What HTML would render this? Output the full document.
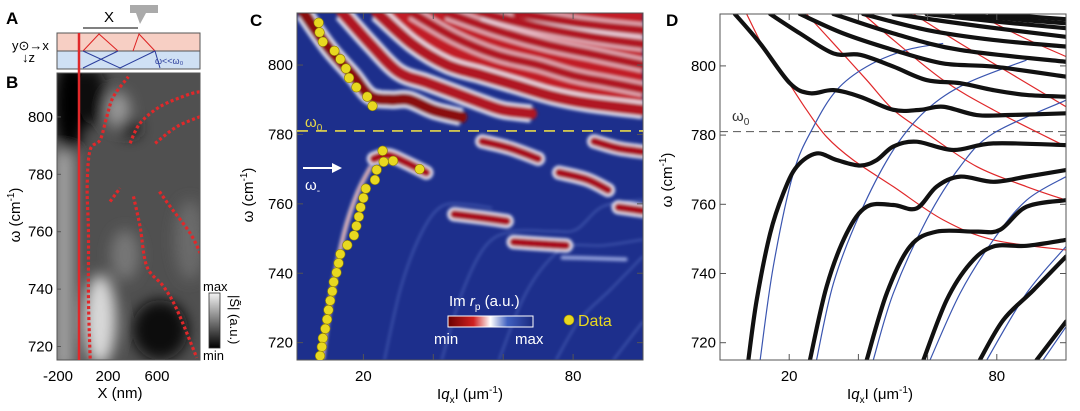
<!DOCTYPE html>
<html><head><meta charset="utf-8"><style>
html,body{margin:0;padding:0;background:#fff;}
svg{display:block;font-family:"Liberation Sans",sans-serif;}
</style></head><body>
<svg id="fig" width="1080" height="411" viewBox="0 0 1080 411" xmlns="http://www.w3.org/2000/svg">
<defs>
<filter id="blurB" x="-50%" y="-50%" width="200%" height="200%"><feGaussianBlur stdDeviation="7"/></filter>
<filter id="blurC" x="-20%" y="-20%" width="140%" height="140%"><feGaussianBlur stdDeviation="1.6"/></filter>
<linearGradient id="cbarC" x1="0" x2="1" y1="0" y2="0"><stop offset="0" stop-color="#6a0000"/><stop offset="0.3" stop-color="#d02020"/><stop offset="0.5" stop-color="#ffffff"/><stop offset="0.7" stop-color="#4060c0"/><stop offset="1" stop-color="#1a2a80"/></linearGradient>
<linearGradient id="cbarB" x1="0" x2="0" y1="0" y2="1"><stop offset="0" stop-color="#f4f4f4"/><stop offset="1" stop-color="#000"/></linearGradient>
<clipPath id="clipB"><rect x="57" y="73" width="143" height="287"/></clipPath>
<clipPath id="clipC"><rect x="297" y="13" width="346" height="347"/></clipPath>
<clipPath id="clipD"><rect x="720" y="14" width="346" height="346"/></clipPath>
</defs>

<g>
<text x="6" y="24" font-size="17" font-weight="bold">A</text>
<rect x="57" y="33" width="143" height="18" fill="#f7cfc4" stroke="#555" stroke-width="1"/>
<rect x="57" y="51" width="143" height="18" fill="#cfe0f4" stroke="#555" stroke-width="1"/>
<line x1="83" y1="28" x2="138" y2="28" stroke="#000" stroke-width="1"/>
<text x="104" y="22" font-size="15">X</text>
<path d="M130 5 L158 5 L158 13 L146 13 L140 24 L136 13 L130 13Z" fill="#aaa"/>
<path d="M83 51 L99 34 L118 51 M133 51 L139 34 L155 51" stroke="#d22" fill="none" stroke-width="1"/>
<path d="M83 51 L120 68 L155 51 M83 68 L118 51 M120 68 L155 51 L160 68" stroke="#2b3d9c" fill="none" stroke-width="1"/>
<text x="155" y="64" font-size="9" fill="#2b3d9c">ω&lt;&lt;ω₀</text>
<text x="12" y="50" font-size="13">y⊙→x</text>
<text x="22" y="62" font-size="13">↓z</text>
</g>

<g>
<text x="6" y="88" font-size="17" font-weight="bold">B</text>
<g clip-path="url(#clipB)">
<rect x="57" y="73" width="143" height="287" fill="#505050"/>
<g filter="url(#blurB)">
<rect x="54" y="150" width="20" height="220" fill="#a0a0a0"/>
<ellipse cx="70" cy="105" rx="16" ry="48" fill="#000"/>
<ellipse cx="92" cy="95" rx="14" ry="30" fill="#111"/>
<ellipse cx="118" cy="110" rx="12" ry="18" fill="#999"/>
<ellipse cx="130" cy="128" rx="10" ry="10" fill="#1a1a1a"/>
<ellipse cx="100" cy="320" rx="16" ry="45" fill="#d8d8d8"/>
<ellipse cx="160" cy="330" rx="28" ry="30" fill="#0a0a0a"/>
<ellipse cx="125" cy="255" rx="14" ry="25" fill="#777"/>
<ellipse cx="190" cy="240" rx="15" ry="40" fill="#6a6a6a"/>
</g>
</g>
<g id="bLines" clip-path="url(#clipB)"></g>
<rect x="57" y="73" width="143" height="287" fill="none" stroke="#555" stroke-width="1"/>
<line x1="79" y1="33" x2="79" y2="360" stroke="#e0282a" stroke-width="2.5"/>
<g id="bAxes"></g>
<text x="120" y="398" font-size="15" text-anchor="middle">X (nm)</text>
<text transform="translate(20,215) rotate(-90)" font-size="15" text-anchor="middle">ω (cm<tspan font-size="10" dy="-6">-1</tspan><tspan dy="6">)</tspan></text>
<rect x="209" y="293" width="11" height="55" fill="url(#cbarB)" stroke="#333" stroke-width="0.8"/>
<text x="203" y="291" font-size="13">max</text>
<text x="203" y="360" font-size="13">min</text>
<text transform="translate(230,295) rotate(90)" font-size="13">|S̃| (a.u.)</text>
</g>

<g>
<text x="250" y="26" font-size="17" font-weight="bold">C</text>
<g clip-path="url(#clipC)">
<rect x="297" y="13" width="346" height="347" fill="#1d2f8c"/>
<g id="cMarks" filter="url(#blurC)"></g>
</g>
<rect x="297" y="13" width="346" height="347" fill="none" stroke="#555" stroke-width="1"/>
<g id="cAxes"></g>
<g id="cDots" clip-path="url(#clipC)"></g>
<text x="305" y="127" font-size="15" fill="#e6d84a">ω<tspan font-size="10" dy="4">0</tspan></text>
<line x1="303" y1="168" x2="335" y2="168" stroke="#fff" stroke-width="2"/>
<path d="M342 168 L332 163 L332 173Z" fill="#fff"/>
<text x="305" y="190" font-size="15" fill="#fff">ω<tspan font-size="10" dy="4">-</tspan></text>
<text x="449" y="306" font-size="15" fill="#fff">Im <tspan font-style="italic">r</tspan><tspan font-size="10" dy="4">p</tspan><tspan dy="-4"> (a.u.)</tspan></text>
<rect x="448" y="316" width="85" height="11" fill="url(#cbarC)" stroke="#fff" stroke-width="1"/>
<text x="434" y="344" font-size="15" fill="#fff">min</text>
<text x="515" y="344" font-size="15" fill="#fff">max</text>
<circle cx="569" cy="320" r="5" fill="#e8d820" stroke="#9a8a00" stroke-width="0.6"/>
<text x="578" y="326" font-size="16" fill="#e8d820">Data</text>
<text x="253" y="195" font-size="15" text-anchor="middle" transform="rotate(-90 253 195)">ω (cm<tspan font-size="10" dy="-6">-1</tspan><tspan dy="6">)</tspan></text>
<text x="470" y="399" font-size="15" text-anchor="middle">I<tspan font-style="italic">q</tspan><tspan font-size="10" dy="4">x</tspan><tspan dy="-4">I (μm</tspan><tspan font-size="10" dy="-6">-1</tspan><tspan dy="6">)</tspan></text>
</g>

<g>
<text x="666" y="26" font-size="17" font-weight="bold">D</text>
<g id="dMarks" clip-path="url(#clipD)"></g>
<rect x="720" y="14" width="346" height="346" fill="none" stroke="#555" stroke-width="1"/>
<g id="dAxes"></g>
<text x="732" y="121" font-size="15" fill="#333">ω<tspan font-size="10" dy="4">0</tspan></text>
<text x="672" y="180" font-size="15" text-anchor="middle" transform="rotate(-90 672 180)">ω (cm<tspan font-size="10" dy="-6">-1</tspan><tspan dy="6">)</tspan></text>
<text x="880" y="399" font-size="15" text-anchor="middle">I<tspan font-style="italic">q</tspan><tspan font-size="10" dy="4">x</tspan><tspan dy="-4">I (μm</tspan><tspan font-size="10" dy="-6">-1</tspan><tspan dy="6">)</tspan></text>
</g>
</svg>

<script>
// ---------- data ----------
const omegaTicks = [720, 740, 760, 780, 800];
const qTicksLabeled = [20, 80];
const qTicksMinor = [40, 60];
const bXTicks = [-200, 200, 600];
const omega0 = 781;

const blackLower = [
 [[8.2,715],[10.6,732.3],[14.5,751.6],[18.3,763.2],[22.2,770.9],[27.9,774.7],[33.7,772.8],[40.5,771.2],[45.3,772.8],[50.1,776.7],[56.8,778.1],[67.4,775.7],[79,777.6],[100,777.1]],
 [[26,715],[30.8,736.2],[36.6,751.6],[42.4,759.3],[50.1,759.8],[56.8,758.8],[62.6,765.1],[69.4,768],[79,766.5],[88.6,768],[100,769.9]],
 [[42.4,715],[48.2,734.3],[54.9,747.8],[62.6,752.1],[74.2,752.1],[80.9,752.6],[88.6,759.3],[100,761.2]],
 [[58.8,715],[65.5,732.3],[72.3,742.9],[79,747.8],[88.6,748],[100,749.7]],
 [[75.1,715],[81.9,726.6],[90.6,735.2],[100,744.9]],
 [[91.5,715],[100,726.1]]
];
const blackUpper = [
 [[4.3,815],[11.6,806.5],[20.2,795],[26,792.1],[32.8,793],[40.5,791.1],[50.1,787.3],[57.8,787.3],[64.5,788.2],[74.2,785.8],[83.8,785.8],[100,786.3]],
 [[14.5,815],[23.1,809.4],[32.8,803.6],[40.5,803.2],[50.1,799.8],[59.7,795.9],[69.4,795],[79,793],[88.6,791.6],[100,791.1]],
 [[23.1,815],[35.6,809.4],[50.1,804.6],[64.5,800.7],[79,799.8],[100,796.9]],
 [[32.8,815],[50.1,809.4],[69.4,804.6],[100,801.2]],
 [[41.4,815],[59.7,810.4],[79,807.5],[100,805.6]],
 [[50.1,815],[75,811.5],[100,808.4]],
 [[59.7,815],[80,812.8],[100,810.9]],
 [[68.4,815],[85,813.5],[100,812.3]],
 [[78,815],[90,814.2],[100,813.5]]
];
const redModes = [
 [[7.7,815],[13.5,803.6],[19.3,795.9],[25,787.3],[30.8,779.5],[38.5,772.8],[50.1,765.1],[64.5,755.5],[79,749.7],[100,746.8]],
 [[25,815],[32.8,806.5],[42.4,795.9],[50.1,787.3],[59.7,780.5],[74.2,770.9],[88.6,765.1],[100,761.2]],
 [[41.4,815],[50.1,807.5],[64.5,795.9],[79,787.3],[100,776.7]],
 [[55.9,815],[69.4,806.5],[83.8,797.9],[100,788.2]],
 [[74.2,815],[87,808.5],[100,802.7]]
];
const blueModes = [
 [[11.6,715],[15.4,742],[21.2,769],[27,782.4],[33.7,793],[42.4,799.8],[53.9,804.6],[64.5,806.5]],
 [[27.9,715],[32.8,737.2],[40.5,757.4],[50.1,775.7],[59.7,787.3],[71.3,795],[88.6,801.7]],
 [[44.3,715],[50.1,734.3],[59.7,755.5],[69.4,770.9],[79,780.5],[100,790.1]],
 [[60.7,715],[69.4,734.3],[79,749.7],[88.6,761.2],[100,768]],
 [[77.1,715],[88.6,734.3],[100,747.8]],
 [[93.4,715],[100,724.6]]
];

const cSegments = [
 [[23,773],[27,774],[32,772],[38,769]],
 [[46,757],[54,756],[61,755]],
 [[63,749],[70,748.5],[78,748]],
 [[54,778],[62,776],[70,773]],
 [[76,769],[84,767],[90,764]],
 [[86,778],[93,776],[100,775]],
 [[93,759],[100,758]]
];
const cFaintSegments = [
 [[77,744.5],[86,744.3],[95,744]]
];
const cUpperBands = [
 [[3,815],[10,805],[17,797],[22,791],[28,790],[33,790],[40,787],[48,785]],
 [[14,815],[22,806],[30,798],[38,795],[46,792],[54,789],[60,787],[68,786]],
 [[24,815],[34,806],[44,800],[54,797],[64,794],[74,791],[84,789],[100,787]],
 [[34,815],[46,808],[58,803],[70,800],[80,797],[90,795],[100,793]],
 [[44,815],[58,810],[72,806],[86,803],[100,800]],
 [[54,815],[70,811],[86,808],[100,806]],
 [[64,815],[82,812],[100,810]]
];
const cDataQ = [7.2,7.45,8.4,11.7,13.4,15,15.9,18,21.1,22.6,
 25.5,25.8,28.5,36.1,23.8,23.3,20.7,20,19.2,18.7,18,17.3,15.4,13.4,12.9,12.3,11.5,11.1,10.5,10,9.6,9.1,8.4,8.1,7.6];
const cDataW = [812.2,809.4,806.7,804.1,801.7,799,796.3,793.6,790.9,788.2,
 775.3,772.1,772.4,770,769.8,766.9,764.4,761.7,759,756.3,753.6,750.9,748.1,745.5,742.9,740.2,737.5,734.8,732.1,729.4,726.7,724,721.3,718.8,716.2];

const bTraces = [
 [[85,715.8],[72,736.3],[72,759.5],[62,775.8],[85,788.5],[162,792],[213,800.1],[264,807.1],[379,814]],
 [[392,790.8],[469,797.8],[623,803.6],[828,807.6],[931,808.8]],
 [[585,790.8],[752,796.6],[931,800.1]],
 [[238,770.5],[315,775.2]],
 [[418,772.3],[469,761.8],[521,747.9],[648,741],[752,732.9],[905,716.1]],
 [[618,774],[700,768.8],[854,759.5],[931,752.6]]
];

function lin(d0,d1,r0,r1){return v=>r0+(v-d0)/(d1-d0)*(r1-r0);}
const cxS = lin(1,100,297,643), cyS = lin(715,815,360,13);
const dxS = lin(0,100,720,1066), dyS = lin(715,815,360,14);
const bxS = lin(-170,930,57,200), byS = lin(715.3,815.3,360,73);

function smooth(pts,sx,sy){
 const p=pts.map(a=>[sx(a[0]),sy(a[1])]);
 if(p.length<3) return 'M'+p.map(a=>a.join(',')).join(' L');
 let d='M'+p[0][0]+','+p[0][1];
 for(let i=0;i<p.length-1;i++){
  const p0=p[i-1]||p[i],p1=p[i],p2=p[i+1],p3=p[i+2]||p2;
  const c1=[p1[0]+(p2[0]-p0[0])/6,p1[1]+(p2[1]-p0[1])/6];
  const c2=[p2[0]-(p3[0]-p1[0])/6,p2[1]-(p3[1]-p1[1])/6];
  d+=' C'+c1[0]+','+c1[1]+' '+c2[0]+','+c2[1]+' '+p2[0]+','+p2[1];
 }
 return d;
}
const NS='http://www.w3.org/2000/svg';
function mk(parent,tag,attrs){const e=document.createElementNS(NS,tag);for(const k in attrs)e.setAttribute(k,attrs[k]);parent.appendChild(e);return e;}

const bLayer=document.getElementById('bLines');
bTraces.forEach(t=>{
 const e=mk(bLayer,'path',{d:smooth(t,bxS,byS),fill:'none',stroke:'#e0282a','stroke-width':3.2,'stroke-dasharray':'3 2.5'});
 
 
});
const bAxesG=document.getElementById('bAxes');
omegaTicks.forEach(w=>{
 mk(bAxesG,'line',{x1:57,x2:61,y1:byS(w),y2:byS(w),stroke:'#555'});
 const t=mk(bAxesG,'text',{x:53,y:byS(w)+5,'font-size':15,'text-anchor':'end'});t.textContent=w;
 
 
});
bXTicks.forEach(v=>{
 const px=v===-200?58:(v===200?108:157);
 const t=mk(bAxesG,'text',{x:px,y:381,'font-size':15,'text-anchor':'middle'});t.textContent=v;
 
 
});

// Panel C heatmap
const cLayer=document.getElementById('cMarks');
const fillBand=cUpperBands[2];
const polyPts=fillBand.map(a=>cxS(a[0])+','+cyS(a[1])).join(' ')+' '+cxS(100)+','+cyS(830)+' '+cxS(24)+','+cyS(830);
mk(cLayer,'polygon',{points:polyPts,fill:'#c21c26'});
cUpperBands.forEach((b,i)=>{
 const w=i<3?12:9;
 mk(cLayer,'path',{d:smooth(b,cxS,cyS),fill:'none',stroke:'#f2f4ff','stroke-width':w+6,'stroke-opacity':i<3?0.95:0.7});
});
cUpperBands.forEach((b,i)=>{
 const w=i<3?12:9;
 const e=mk(cLayer,'path',{d:smooth(b,cxS,cyS),fill:'none',stroke:i===0?'#8a0a10':'#b01820','stroke-width':w,'stroke-linecap':'round'});
 
 
});
blackLower.slice(1).forEach(b=>{
 mk(cLayer,'path',{d:smooth(b.filter(a=>a[1]<765),cxS,cyS),fill:'none',stroke:'#6f8ad8','stroke-width':1.4,'stroke-opacity':0.6});
});
{
 const e=mk(cLayer,'path',{d:smooth(blackLower[0].slice(0,5),cxS,cyS),fill:'none',stroke:'#fff','stroke-width':4});
 
 
 mk(cLayer,'path',{d:smooth(blackLower[0].slice(0,5),cxS,cyS),fill:'none',stroke:'#c8202a','stroke-width':1.6});
}
cSegments.forEach(s=>{
 mk(cLayer,'path',{d:smooth(s,cxS,cyS),fill:'none',stroke:'#f4f4ff','stroke-width':14,'stroke-linecap':'round'});
 const e=mk(cLayer,'path',{d:smooth(s,cxS,cyS),fill:'none',stroke:'#a8101a','stroke-width':9,'stroke-linecap':'round'});
 
 
});
cFaintSegments.forEach(s=>{
 const e=mk(cLayer,'path',{d:smooth(s,cxS,cyS),fill:'none',stroke:'#c8d4ff','stroke-width':4,'stroke-linecap':'round','stroke-opacity':0.7});
 
 
});
{
 const e=mk(document.getElementById('cAxes'),'line',{x1:297,x2:643,y1:cyS(omega0),y2:cyS(omega0),stroke:'#e6d84a','stroke-width':1.6,'stroke-dasharray':'11 8'});
 
 
}
const cDotLayer=document.getElementById('cDots');
cDataQ.forEach((q,i)=>{
 const e=mk(cDotLayer,'circle',{cx:cxS(q),cy:cyS(cDataW[i]),r:4.8,fill:'#e8d820',stroke:'#8f8000','stroke-width':0.6});
 
 
});

function axes(g,sx,sy,x0,x1,y0,y1,prefix){
 omegaTicks.forEach(w=>{
  mk(g,'line',{x1:x0,x2:x0+6,y1:sy(w),y2:sy(w),stroke:'#555'});
  mk(g,'line',{x1:x1-6,x2:x1,y1:sy(w),y2:sy(w),stroke:'#555'});
  const t=mk(g,'text',{x:x0-4,y:sy(w)+5,'font-size':15,'text-anchor':'end'});t.textContent=w;
  
  
 });
 qTicksLabeled.concat(qTicksMinor).forEach(q=>{
  mk(g,'line',{x1:sx(q),x2:sx(q),y1:y1,y2:y1-6,stroke:'#555'});
  mk(g,'line',{x1:sx(q),x2:sx(q),y1:y0,y2:y0+6,stroke:'#555'});
 });
 qTicksLabeled.forEach(q=>{
  const t=mk(g,'text',{x:sx(q),y:y1+21,'font-size':15,'text-anchor':'middle'});t.textContent=q;
  
  
 });
}
axes(document.getElementById('cAxes'),cxS,cyS,297,643,13,360,'c');
axes(document.getElementById('dAxes'),dxS,dyS,720,1066,14,360,'d');

const dLayer=document.getElementById('dMarks');
{
 const e=mk(dLayer,'line',{x1:720,x2:1066,y1:dyS(omega0),y2:dyS(omega0),stroke:'#555','stroke-width':1,'stroke-dasharray':'8 5'});
 
 
}
redModes.forEach(m=>{
 const e=mk(dLayer,'path',{d:smooth(m,dxS,dyS),fill:'none',stroke:'#e0282a','stroke-width':1.2});
 
 
});
blueModes.forEach(m=>{
 const e=mk(dLayer,'path',{d:smooth(m,dxS,dyS),fill:'none',stroke:'#3a55b0','stroke-width':1.2});
 
 
});
blackLower.concat(blackUpper).forEach(m=>{
 const e=mk(dLayer,'path',{d:smooth(m,dxS,dyS),fill:'none',stroke:'#111','stroke-width':4.2,'stroke-linecap':'round'});
 
 
});
</script>
</body></html>
